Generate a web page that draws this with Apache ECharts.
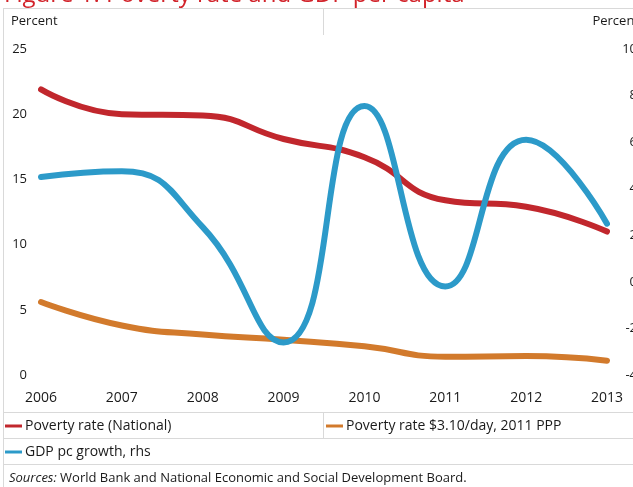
<!DOCTYPE html>
<html>
<head>
<meta charset="utf-8">
<script src="https://cdn.jsdelivr.net/npm/echarts@6/dist/echarts.min.js"></script>
<style>
  html, body { margin: 0; padding: 0; background: #ffffff; }
  #chart { width: 633px; height: 487px; }
</style>
</head>
<body>
<div id="chart"></div>
<script>
// Thailand: poverty rates (left axis, %) and GDP per capita growth (right axis, %)
const years = ['2006', '2007', '2008', '2009', '2010', '2011', '2012', '2013'];
const povertyNational = [21.9, 20.0, 19.9, 18.1, 16.7, 13.4, 12.9, 11.0];
const poverty310 = [5.6, 3.8, 3.1, 2.7, 2.2, 1.4, 1.45, 1.1];
const gdpPcGrowth = [4.5, 4.75, 2.35, -2.6, 7.55, -0.2, 6.1, 2.5];

const leftTicks = { min: 0, max: 25, interval: 5 };
const rightTicks = { min: -4, max: 10, interval: 2 };

const seriesNames = ['Poverty rate (National)', 'Poverty rate $3.10/day, 2011 PPP', 'GDP pc growth, rhs'];
const seriesColors = ['#c1272d', '#d27a2c', '#2c9ac9'];

const FONT = 'Open Sans';
const TEXT = '#1a1a1a';
const RULE = '#d9d9d9';

const chart = echarts.init(document.getElementById('chart'), null, { renderer: 'canvas' });

function lineSeries(i, data, axisIndex) {
  return {
    name: seriesNames[i],
    type: 'line',
    yAxisIndex: axisIndex,
    data: data,
    smooth: 0.5,
    symbol: 'none',
    lineStyle: { width: 6, color: seriesColors[i], cap: 'round', join: 'round' },
    itemStyle: { color: seriesColors[i] },
    z: 3 + i
  };
}

function legendBox(name, left, top) {
  return {
    data: [name],
    left: left,
    top: top,
    icon: 'rect',
    itemWidth: 17,
    itemHeight: 3,
    itemGap: 0,
    padding: 0,
    selectedMode: false,
    textStyle: { fontFamily: FONT, fontSize: 14, color: TEXT, padding: [0, 0, 0, -2] }
  };
}

function rule(x1, y1, x2, y2) {
  return {
    type: 'line',
    shape: { x1: x1, y1: y1, x2: x2, y2: y2 },
    style: { stroke: RULE, lineWidth: 1 },
    silent: true
  };
}

chart.setOption({
  animation: false,
  backgroundColor: '#ffffff',
  textStyle: { fontFamily: FONT },
  grid: { left: 41, right: 26, top: 49, bottom: 112, outerBoundsMode: 'none', containLabel: false },
  xAxis: {
    type: 'category',
    data: years,
    boundaryGap: false,
    axisLine: { show: false },
    axisTick: { show: false },
    splitLine: { show: false },
    axisLabel: { margin: 16, fontFamily: FONT, fontSize: 14, color: TEXT }
  },
  yAxis: [
    {
      type: 'value',
      min: leftTicks.min, max: leftTicks.max, interval: leftTicks.interval,
      axisLine: { show: false },
      axisTick: { show: false },
      splitLine: { show: false },
      axisLabel: { margin: 14, fontFamily: FONT, fontSize: 13, color: TEXT }
    },
    {
      type: 'value',
      position: 'right',
      min: rightTicks.min, max: rightTicks.max, interval: rightTicks.interval,
      axisLine: { show: false },
      axisTick: { show: false },
      splitLine: { show: false },
      axisLabel: { margin: 30, align: 'right', fontFamily: FONT, fontSize: 13, color: TEXT }
    }
  ],
  legend: [
    legendBox(seriesNames[0], 5, 419),
    legendBox(seriesNames[1], 326, 419),
    legendBox(seriesNames[2], 5, 445)
  ],
  series: [
    lineSeries(0, povertyNational, 0),
    lineSeries(1, poverty310, 0),
    lineSeries(2, gdpPcGrowth, 1)
  ],
  graphic: [
    {
      type: 'text',
      x: 4, y: 7,
      style: {
        text: 'Figure 1: Poverty rate and GDP per capita',
        font: '24px "' + FONT + '"',
        fill: '#d2232a',
        textVerticalAlign: 'bottom'
      },
      silent: true
    },
    rule(3, 8.5, 633, 8.5),
    rule(3.5, 8, 3.5, 487),
    rule(323.5, 8, 323.5, 35),
    rule(3, 412.5, 633, 412.5),
    rule(323.5, 412, 323.5, 439),
    rule(3, 438.5, 633, 438.5),
    rule(3, 464.5, 633, 464.5),
    {
      type: 'text', x: 11, y: 21,
      style: { text: 'Percent', font: '13px "' + FONT + '"', fill: TEXT, textVerticalAlign: 'middle' },
      silent: true
    },
    {
      type: 'text', x: 639, y: 21,
      style: { text: 'Percent', font: '13px "' + FONT + '"', fill: TEXT, textAlign: 'right', textVerticalAlign: 'middle' },
      silent: true
    },
    {
      type: 'text', x: 9, y: 478,
      style: {
        rich: {
          it: { fontFamily: FONT, fontSize: 13, fontStyle: 'italic', fill: TEXT },
          rg: { fontFamily: FONT, fontSize: 13, fill: TEXT }
        },
        text: '{it|Sources:} {rg|World Bank and National Economic and Social Development Board.}',
        textVerticalAlign: 'middle'
      },
      silent: true
    }
  ]
});
</script>
</body>
</html>
